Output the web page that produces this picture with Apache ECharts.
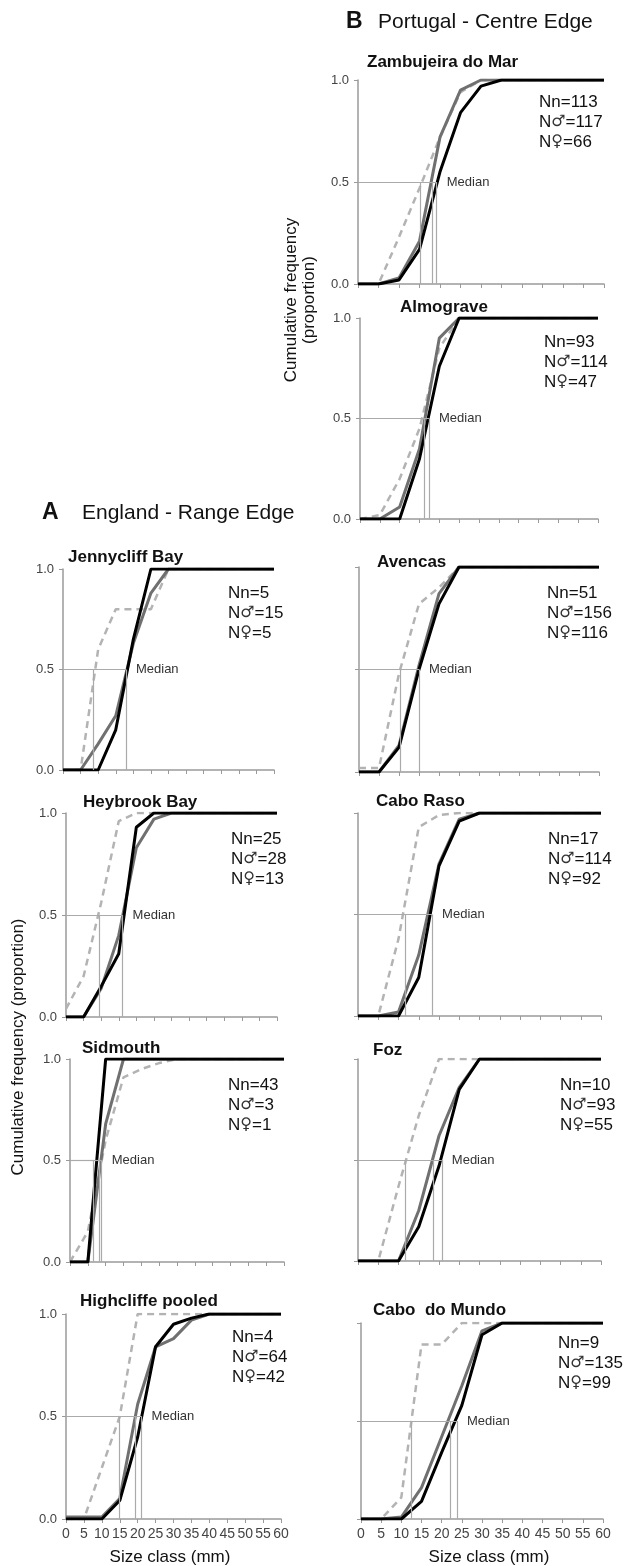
<!DOCTYPE html>
<html><head><meta charset="utf-8">
<script src="https://cdn.jsdelivr.net/npm/echarts/dist/echarts.min.js"></script>
<style>html,body{margin:0;padding:0;background:#fff}#c{width:624px;height:1566px}</style>
</head><body><div id="c"></div>
<script>
// ---------- data ----------
const sizeClasses = [0,5,10,15,20,25,30,35,40,45,50,55,60];

const zambujeiraNn      = [0,0,0.23,0.47,0.72,0.94,1,1,1,1,1,1,1];
const zambujeiraMale    = [0,0,0.03,0.21,0.72,0.95,1,1,1,1,1,1,1];
const zambujeiraFemale  = [0,0,0.02,0.17,0.55,0.84,0.97,1,1,1,1,1,1];
const zambujeiraMedians = [15.3,18.2,19.2];
const zambujeiraCounts  = ['Nn=113','N\u2642=117','N\u2640=66'];

const almograveNn      = [0,0.02,0.2,0.45,0.85,1,1,1,1,1,1,1,1];
const almograveMale    = [0,0,0.06,0.35,0.9,1,1,1,1,1,1,1,1];
const almograveFemale  = [0,0,0,0.3,0.76,1,1,1,1,1,1,1,1];
const almograveMedians = [16.1,17.4];
const almograveCounts  = ['Nn=93','N\u2642=114','N\u2640=47'];

const avencasNn      = [0.02,0.02,0.48,0.82,0.9,1,1,1,1,1,1,1,1];
const avencasMale    = [0,0,0.13,0.52,0.87,1,1,1,1,1,1,1,1];
const avencasFemale  = [0,0,0.12,0.5,0.82,1,1,1,1,1,1,1,1];
const avencasMedians = [10.3,15.0];
const avencasCounts  = ['Nn=51','N\u2642=156','N\u2640=116'];

const caboRasoNn      = [0,0,0.38,0.93,0.99,1,1,1,1,1,1,1,1];
const caboRasoMale    = [0,0,0.02,0.3,0.75,0.97,1,1,1,1,1,1,1];
const caboRasoFemale  = [0,0,0,0.19,0.74,0.96,1,1,1,1,1,1,1];
const caboRasoMedians = [11.6,18.3];
const caboRasoCounts  = ['Nn=17','N\u2642=114','N\u2640=92'];

const fozNn      = [0,0,0.37,0.72,1,1,1,1,1,1,1,1,1];
const fozMale    = [0,0,0,0.25,0.62,0.86,1,1,1,1,1,1,1];
const fozFemale  = [0,0,0,0.17,0.47,0.85,1,1,1,1,1,1,1];
const fozMedians = [11.6,18.5,20.7];
const fozCounts  = ['Nn=10','N\u2642=93','N\u2640=55'];

const caboMundoNn      = [0,0,0.11,0.89,0.89,1,1,1,1,1,1,1,1];
const caboMundoMale    = [0,0,0.01,0.16,0.42,0.68,0.96,1,1,1,1,1,1];
const caboMundoFemale  = [0,0,0,0.09,0.34,0.58,0.94,1,1,1,1,1,1];
const caboMundoMedians = [12.4,22.1,23.8];
const caboMundoCounts  = ['Nn=9','N\u2642=135','N\u2640=99'];

const jennycliffNn      = [0,0,0.6,0.8,0.8,0.8,1,1,1,1,1,1,1];
const jennycliffMale    = [0,0,0.13,0.27,0.63,0.88,1,1,1,1,1,1,1];
const jennycliffFemale  = [0,0,0,0.2,0.65,1,1,1,1,1,1,1,1];
const jennycliffMedians = [8.6,17.9];
const jennycliffCounts  = ['Nn=5','N\u2642=15','N\u2640=5'];

const heybrookNn      = [0.04,0.2,0.56,0.96,1,1,1,1,1,1,1,1,1];
const heybrookMale    = [0,0,0.14,0.4,0.83,0.97,1,1,1,1,1,1,1];
const heybrookFemale  = [0,0,0.15,0.31,0.93,1,1,1,1,1,1,1,1];
const heybrookMedians = [9.4,16.1];
const heybrookCounts  = ['Nn=25','N\u2642=28','N\u2640=13'];

const sidmouthNn      = [0,0.15,0.6,0.91,0.95,0.98,1,1,1,1,1,1,1];
const sidmouthMale    = [0,0,0.68,1,1,1,1,1,1,1,1,1,1];
const sidmouthFemale  = [0,0,1,1,1,1,1,1,1,1,1,1,1];
const sidmouthMedians = [6.5,8.2,8.9];
const sidmouthCounts  = ['Nn=43','N\u2642=3','N\u2640=1'];

const highcliffeNn      = [0,0,0.25,0.5,1,1,1,1,1,1,1,1,1];
const highcliffeMale    = [0.01,0.01,0.01,0.1,0.56,0.84,0.88,0.97,1,1,1,1,1];
const highcliffeFemale  = [0,0,0,0.09,0.4,0.84,0.95,0.98,1,1,1,1,1];
const highcliffeMedians = [14.9,19.3,21.1];
const highcliffeCounts  = ['Nn=4','N\u2642=64','N\u2640=42'];

const yTickLabels = ['0.0','0.5','1.0'];
const xAxisTitle = 'Size class (mm)';
const yAxisTitle = 'Cumulative frequency (proportion)';

// ---------- layout ----------
const panels = [
  {title:'Zambujeira do Mar', nn:zambujeiraNn, m:zambujeiraMale, f:zambujeiraFemale, med:zambujeiraMedians, n:zambujeiraCounts,
   grid:[358,80,246,204], yl:true, xl:false, t:[367,62], c:[539,102]},
  {title:'Almograve', nn:almograveNn, m:almograveMale, f:almograveFemale, med:almograveMedians, n:almograveCounts,
   grid:[360,318,238,201], yl:true, xl:false, t:[400,307], c:[544,342]},
  {title:'Avencas', nn:avencasNn, m:avencasMale, f:avencasFemale, med:avencasMedians, n:avencasCounts,
   grid:[359,567,240,205], yl:false, xl:false, t:[377,562], c:[547,593]},
  {title:'Cabo Raso', nn:caboRasoNn, m:caboRasoMale, f:caboRasoFemale, med:caboRasoMedians, n:caboRasoCounts,
   grid:[358,813,243,203], yl:false, xl:false, t:[376,801], c:[548,839]},
  {title:'Foz', nn:fozNn, m:fozMale, f:fozFemale, med:fozMedians, n:fozCounts,
   grid:[358,1059,243,202], yl:false, xl:false, t:[373,1050], c:[560,1085]},
  {title:'Cabo  do Mundo', nn:caboMundoNn, m:caboMundoMale, f:caboMundoFemale, med:caboMundoMedians, n:caboMundoCounts,
   grid:[361,1323,242,196], yl:false, xl:true, t:[373,1310], c:[558,1343]},
  {title:'Jennycliff Bay', nn:jennycliffNn, m:jennycliffMale, f:jennycliffFemale, med:jennycliffMedians, n:jennycliffCounts,
   grid:[63,569,211,201], yl:true, xl:false, t:[68,557], c:[228,593]},
  {title:'Heybrook Bay', nn:heybrookNn, m:heybrookMale, f:heybrookFemale, med:heybrookMedians, n:heybrookCounts,
   grid:[66,813,211,204], yl:true, xl:false, t:[83,802], c:[231,839]},
  {title:'Sidmouth', nn:sidmouthNn, m:sidmouthMale, f:sidmouthFemale, med:sidmouthMedians, n:sidmouthCounts,
   grid:[70,1059,214,203], yl:true, xl:false, t:[82,1048], c:[228,1085]},
  {title:'Highcliffe pooled', nn:highcliffeNn, m:highcliffeMale, f:highcliffeFemale, med:highcliffeMedians, n:highcliffeCounts,
   grid:[66,1314,215,205], yl:true, xl:true, t:[80,1301], c:[232,1337]}
];

const FONT = '"Liberation Sans", Arial, Helvetica, sans-serif';
const SYMFONT = '"DejaVu Sans", sans-serif';
const AXIS = '#9a9a9a';
const grids = [], xAxes = [], yAxes = [], series = [], graphic = [];

function txt(x, y, text, size, weight, align) {
  return {type:'text', x:x, y:y, silent:true,
    style:{text:text, fill:'#111', fontSize:size, fontWeight:weight||'normal', fontFamily:FONT,
      textAlign:align||'left', textVerticalAlign:'middle', verticalAlign:'middle'}};
}
function countTxt(x, y, s) {
  const t = txt(x, y, s.replace(/([\u2640\u2642])/g, '{s|$1}'), 17);
  t.style.rich = {s:{fontFamily:SYMFONT, fontSize:16, fill:'#333', verticalAlign:'middle'}};
  return t;
}

panels.forEach((p, i) => {
  grids.push({left:p.grid[0], top:p.grid[1], width:p.grid[2], height:p.grid[3], containLabel:false});
  xAxes.push({type:'value', gridIndex:i, min:0, max:60, interval:5,
    axisLine:{show:true, lineStyle:{color:AXIS, width:1.5}},
    axisTick:{show:true, length:4, lineStyle:{color:AXIS, width:1}},
    axisLabel:{show:p.xl, fontSize:14, color:'#444', margin:8, fontFamily:FONT},
    splitLine:{show:false}});
  yAxes.push({type:'value', gridIndex:i, min:0, max:1, interval:0.5,
    axisLine:{show:true, lineStyle:{color:AXIS, width:1.5}},
    axisTick:{show:true, length:4, lineStyle:{color:AXIS, width:1}},
    axisLabel:{show:p.yl, fontSize:13, color:'#444', margin:9, fontFamily:FONT,
      formatter:v => yTickLabels[Math.round(v*2)]},
    splitLine:{show:false}});
  const maxMed = Math.max.apply(null, p.med);
  const ml = [[{coord:[0,0.5], label:{show:true, position:'end', formatter:'Median', distance:10,
      color:'#333', fontSize:13, fontFamily:FONT}}, {coord:[maxMed,0.5]}]];
  p.med.forEach(m => ml.push([{coord:[m,0], label:{show:false}}, {coord:[m,0.5]}]));
  series.push({type:'line', xAxisIndex:i, yAxisIndex:i, data:[[0,0.5]], symbol:'none', silent:true,
    lineStyle:{width:0}, z:1,
    markLine:{silent:true, symbol:['none','none'], animation:false,
      lineStyle:{color:'#aaaaaa', width:1.2, type:'solid'}, label:{show:false}, data:ml}});
  const mk = (arr, color, width, type, z) => ({type:'line', xAxisIndex:i, yAxisIndex:i, z:z,
    data:sizeClasses.map((x, j) => [x, arr[j]]), symbol:'none', silent:true,
    lineStyle:{color:color, width:width, type:type}});
  series.push(mk(p.nn, '#b3b3b3', 2.5, [7,5], 2));
  series.push(mk(p.m, '#707070', 3, 'solid', 3));
  series.push(mk(p.f, '#000000', 3, 'solid', 4));
  graphic.push(txt(p.t[0], p.t[1], p.title, 17, 'bold'));
  p.n.forEach((s, k) => graphic.push(countTxt(p.c[0], p.c[1] + k*20, s)));
});

// section headers and axis titles
graphic.push(txt(346, 22, 'B', 23, 'bold'));
graphic.push(txt(378, 22, 'Portugal - Centre Edge', 21));
graphic.push(txt(42, 513, 'A', 23, 'bold'));
graphic.push(txt(82, 513, 'England - Range Edge', 21));
graphic.push(txt(170, 1557, xAxisTitle, 17, 'normal', 'center'));
graphic.push(txt(489, 1557, xAxisTitle, 17, 'normal', 'center'));
const rot = (x, y, s) => Object.assign(txt(x, y, s, 17, 'normal', 'center'), {rotation:Math.PI/2});
graphic.push(rot(18, 1047, yAxisTitle));
graphic.push(rot(291, 300, 'Cumulative frequency'));
graphic.push(rot(309, 300, '(proportion)'));

const chart = echarts.init(document.getElementById('c'), null, {renderer:'canvas'});
chart.setOption({
  animation:false, backgroundColor:'#ffffff',
  textStyle:{fontFamily:FONT},
  grid:grids, xAxis:xAxes, yAxis:yAxes, series:series, graphic:graphic
});
</script></body></html>
